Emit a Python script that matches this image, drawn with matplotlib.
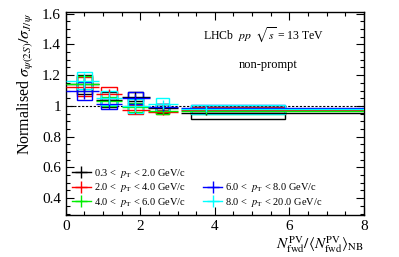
import matplotlib
matplotlib.use("Agg")
import matplotlib.pyplot as plt
from matplotlib.patches import Rectangle
from matplotlib.lines import Line2D
from matplotlib.ticker import MultipleLocator

plt.rcParams['font.family'] = ['Liberation Serif', 'DejaVu Serif']
plt.rcParams['mathtext.fontset'] = 'stix'

# bin layout (multiplicity ratio)
x_pos = [0.50, 1.15, 1.86, 2.60, 3.76]
x_lo = [0.0, 0.8, 1.5, 2.2, 3.1]
x_hi = [0.9, 1.5, 2.25, 3.0, 8.0]
box_lo = [0.30, 0.95, 1.66, 2.41, 3.36]
box_hi = [0.70, 1.36, 2.06, 2.78, 5.88]

labels = ['0.3 <  $p_{\\rm T}$ < 2.0 GeV/c', '2.0 <  $p_{\\rm T}$ < 4.0 GeV/c',
          '4.0 <  $p_{\\rm T}$ < 6.0 GeV/c', '6.0 <  $p_{\\rm T}$ < 8.0 GeV/c',
          '8.0 <  $p_{\\rm T}$ < 20.0 GeV/c']
colors = ['black', 'red', '#00ee00', 'blue', 'cyan']

val_03_2 = [1.14, 1.04, 1.06, 0.985, 0.955]
val_2_4 = [1.125, 1.08, 0.975, 0.96, 0.975]
val_4_6 = [1.145, 1.03, 0.99, 0.97, 0.965]
val_6_8 = [1.098, 1.01, 1.05, 0.99, 0.985]
val_8_20 = [1.164, 1.05, 1.00, 1.01, 0.978]

stat_03_2 = [0.04, 0.03, 0.03, 0.03, 0.015]
stat_2_4 = [0.04, 0.03, 0.03, 0.02, 0.015]
stat_4_6 = [0.04, 0.03, 0.03, 0.02, 0.015]
stat_6_8 = [0.05, 0.03, 0.03, 0.02, 0.015]
stat_8_20 = [0.05, 0.04, 0.04, 0.03, 0.02]

syst_03_2 = [0.06, 0.05, 0.03, 0.03, 0.04]
syst_2_4 = [0.06, 0.04, 0.03, 0.015, 0.02]
syst_4_6 = [0.05, 0.03, 0.03, 0.02, 0.02]
syst_6_8 = [0.06, 0.03, 0.04, 0.02, 0.02]
syst_8_20 = [0.055, 0.045, 0.045, 0.04, 0.03]

vals = [val_03_2, val_2_4, val_4_6, val_6_8, val_8_20]
stats = [stat_03_2, stat_2_4, stat_4_6, stat_6_8, stat_8_20]
systs = [syst_03_2, syst_2_4, syst_4_6, syst_6_8, syst_8_20]

fig = plt.figure(figsize=(3.99, 2.57), dpi=100)
ax = fig.add_axes([0.165, 0.163, 0.747, 0.79])

ax.axhline(1.0, color='black', ls=(0, (2, 1.5)), lw=0.8, zorder=1)

handles = []
for v, st, sy, c in zip(vals, stats, systs, colors):
    xerr = [[x - lo for x, lo in zip(x_pos, x_lo)], [hi - x for x, hi in zip(x_pos, x_hi)]]
    ax.errorbar(x_pos, v, yerr=st, xerr=xerr, fmt='none', ecolor=c, elinewidth=1.0, capsize=0, zorder=3)
    for i in range(len(x_pos)):
        ax.add_patch(Rectangle((box_lo[i], v[i] - sy[i]), box_hi[i] - box_lo[i], 2 * sy[i],
                               fill=False, edgecolor=c, lw=1.0, zorder=2))
    handles.append(Line2D([], [], color=c, marker='+', markersize=9, lw=1.0, markeredgewidth=1.0))

ax.set_xlim(0, 8)
ax.set_ylim(0.29, 1.61)
ax.xaxis.set_major_locator(MultipleLocator(2))
ax.xaxis.set_minor_locator(MultipleLocator(0.5))
ax.yaxis.set_major_locator(MultipleLocator(0.2))
ax.yaxis.set_minor_locator(MultipleLocator(0.05))
ax.tick_params(which='both', direction='in', top=True, right=True, labelsize=11)
ax.tick_params(which='major', length=6, width=0.8)
ax.tick_params(which='minor', length=3, width=0.8)
ax.yaxis.set_major_formatter(matplotlib.ticker.FuncFormatter(lambda y, p: ('%g' % round(y, 2))))
ax.xaxis.set_major_formatter(matplotlib.ticker.FuncFormatter(lambda x, p: '%d' % x))
for s in ax.spines.values():
    s.set_linewidth(1.0)

ax.set_ylabel(r'Normalised $\sigma_{\psi(2S)}/\sigma_{J/\psi}$', loc='top', fontsize=11.5)
ax.set_xlabel(r'$N_{\rm fwd}^{\rm PV}/\langle N_{\rm fwd}^{\rm PV}\rangle_{\rm NB}$', loc='right', fontsize=11, labelpad=1)

ax.text(0.46, 0.89, r'LHCb  $pp$  $\sqrt{s}$ = 13 TeV', transform=ax.transAxes, fontsize=8.5, va='center')
ax.text(0.58, 0.74, 'non-prompt', transform=ax.transAxes, fontsize=9, va='center')

leg1 = ax.legend(handles[:3], labels[:3], loc='lower left', bbox_to_anchor=(0.0, 0.0), frameon=False,
                 fontsize=7.5, handlelength=1.8, handletextpad=0.3, labelspacing=0.15, borderaxespad=0.2)
ax.add_artist(leg1)
ax.legend(handles[3:], labels[3:], loc='lower left', bbox_to_anchor=(0.44, 0.0), frameon=False,
          fontsize=7.5, handlelength=1.8, handletextpad=0.3, labelspacing=0.15, borderaxespad=0.2)

fig.savefig('out.png', dpi=100)
